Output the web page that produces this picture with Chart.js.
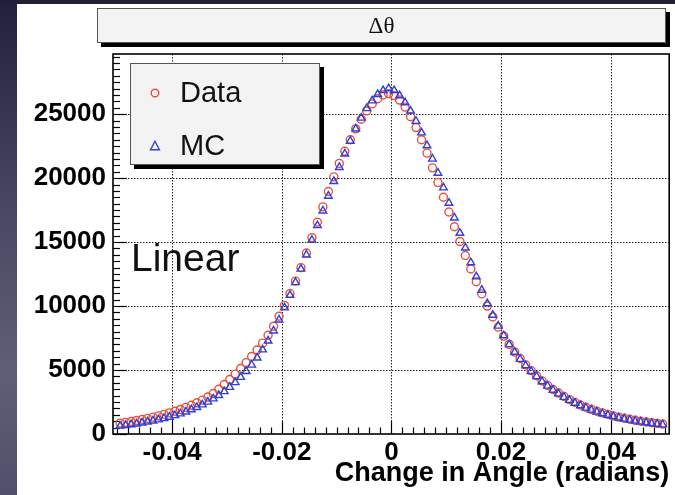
<!DOCTYPE html>
<html>
<head>
<meta charset="utf-8">
<script src="https://cdn.jsdelivr.net/npm/chart.js@4/dist/chart.umd.min.js"></script>
<style>
    body { margin: 0; }
    #page { position: relative; width: 675px; height: 495px; background: #fff; overflow: hidden; font-family: "Liberation Sans", Arial, sans-serif; }
    #leftStrip { position: absolute; left: 0; top: 0; width: 17px; height: 495px; background: linear-gradient(#20203a, #4a4a64 45%, #5e5e76 75%, #50506a); }
    #topStrip { position: absolute; left: 0; top: 0; width: 675px; height: 4px; background: #1e1e36; }
    #chart { position: absolute; left: 0; top: 0; }
    .pave { position: absolute; background: #f3f3f3; border: 1px solid #555; box-shadow: 4px 4px 0 #000; box-sizing: border-box; }
    #titleBox { left: 97px; top: 8px; width: 569px; height: 35px; text-align: center; font-family: "Liberation Serif", "DejaVu Serif", serif; font-size: 23px; line-height: 33px; color: #111; }
    #legendBox { left: 130px; top: 63px; width: 190px; height: 102px; }
    .entry { position: absolute; left: 0; font-size: 29px; color: #111; }
    .entry svg { position: absolute; left: 18px; }
    .entry span { position: absolute; left: 49px; white-space: nowrap; }
    #linear { position: absolute; left: 131px; top: 236px; font-size: 39px; color: #111; }
</style>
</head>
<body>
<div id="page">
    <div id="leftStrip"></div>
    <div id="topStrip"></div>
    <canvas id="chart" width="675" height="495"></canvas>
    <div id="titleBox" class="pave">&Delta;&theta;</div>
    <div id="legendBox" class="pave">
        <div class="entry" style="top:12px;"><svg width="12" height="12" style="top:11px;"><circle cx="6" cy="6" r="3.8" fill="none" stroke="#e8503c" stroke-width="1.4"/></svg><span>Data</span></div>
        <div class="entry" style="top:65px;"><svg width="12" height="12" style="top:11px;"><polygon points="6,1.3 10.4,9.7 1.6,9.7" fill="none" stroke="#2f3fd8" stroke-width="1.4"/></svg><span>MC</span></div>
    </div>
    <div id="linear">Linear</div>
</div>
<script>
// bin centres (radians)
const binCenters = [
    -0.0495, -0.0485, -0.0475, -0.0465, -0.0455, -0.0445, -0.0435, -0.0425, -0.0415, -0.0405,
    -0.0395, -0.0385, -0.0375, -0.0365, -0.0355, -0.0345, -0.0335, -0.0325, -0.0315, -0.0305,
    -0.0295, -0.0285, -0.0275, -0.0265, -0.0255, -0.0245, -0.0235, -0.0225, -0.0215, -0.0205,
    -0.0195, -0.0185, -0.0175, -0.0165, -0.0155, -0.0145, -0.0135, -0.0125, -0.0115, -0.0105,
    -0.0095, -0.0085, -0.0075, -0.0065, -0.0055, -0.0045, -0.0035, -0.0025, -0.0015, -0.0005,
    0.0005, 0.0015, 0.0025, 0.0035, 0.0045, 0.0055, 0.0065, 0.0075, 0.0085, 0.0095,
    0.0105, 0.0115, 0.0125, 0.0135, 0.0145, 0.0155, 0.0165, 0.0175, 0.0185, 0.0195,
    0.0205, 0.0215, 0.0225, 0.0235, 0.0245, 0.0255, 0.0265, 0.0275, 0.0285, 0.0295,
    0.0305, 0.0315, 0.0325, 0.0335, 0.0345, 0.0355, 0.0365, 0.0375, 0.0385, 0.0395,
    0.0405, 0.0415, 0.0425, 0.0435, 0.0445, 0.0455, 0.0465, 0.0475, 0.0485, 0.0495
];

const dataCounts = [
    850, 910, 980, 1050, 1130, 1220, 1320, 1420, 1530, 1650,
    1780, 1920, 2080, 2250, 2440, 2650, 2890, 3160, 3500, 3870,
    4260, 4680, 5120, 5580, 6060, 6560, 7100, 7720, 8420, 9200,
    10050, 10980, 11950, 13000, 14150, 15350, 16550, 17750, 18950, 20100,
    21150, 22100, 23000, 23850, 24600, 25250, 25800, 26200, 26500, 26600,
    26450, 26100, 25550, 24800, 23950, 23000, 21950, 20800, 19650, 18500,
    17350, 16200, 15050, 13950, 12900, 11900, 10950, 10000, 9150, 8350,
    7650, 7000, 6400, 5900, 5400, 4950, 4550, 4150, 3800, 3480,
    3200, 2930, 2690, 2470, 2270, 2090, 1930, 1780, 1650, 1530,
    1420, 1320, 1230, 1150, 1070, 1000, 940, 880, 830, 780
];

const mcCounts = [
    630, 680, 740, 800, 870, 950, 1030, 1120, 1220, 1330,
    1450, 1590, 1740, 1910, 2090, 2290, 2510, 2760, 3030, 3330,
    3660, 4030, 4440, 4900, 5400, 5960, 6590, 7290, 8070, 8930,
    9870, 10850, 11850, 12900, 14000, 15150, 16300, 17450, 18600, 19750,
    20850, 21900, 22900, 23850, 24700, 25450, 26050, 26550, 26850, 27000,
    26850, 26450, 25900, 25250, 24450, 23550, 22550, 21500, 20400, 19250,
    18050, 16900, 15700, 14550, 13400, 12300, 11250, 10200, 9300, 8450,
    7700, 7000, 6400, 5850, 5350, 4900, 4500, 4100, 3760, 3440,
    3150, 2880, 2640, 2420, 2220, 2040, 1880, 1730, 1600, 1480,
    1370, 1270, 1180, 1100, 1020, 950, 890, 830, 780, 730
];

const xTicks = [-0.04, -0.02, 0, 0.02, 0.04];
const yTicks = [0, 5000, 10000, 15000, 20000, 25000];

const toPoints = counts => counts.map((c, i) => ({ x: binCenters[i], y: c }));

// ROOT-style frame: dotted grid, inward tick marks, solid border
const rootFrame = {
    id: 'rootFrame',
    beforeDatasetsDraw(chart) {
        const { ctx, chartArea: a, scales: { x, y } } = chart;
        ctx.save();
        ctx.strokeStyle = '#222';
        ctx.lineWidth = 1;
        ctx.setLineDash([1.5, 1.5]);
        xTicks.forEach(v => {
            const px = Math.round(x.getPixelForValue(v)) + 0.5;
            ctx.beginPath(); ctx.moveTo(px, a.top); ctx.lineTo(px, a.bottom); ctx.stroke();
        });
        yTicks.slice(1).forEach(v => {
            const py = Math.round(y.getPixelForValue(v)) + 0.5;
            ctx.beginPath(); ctx.moveTo(a.left, py); ctx.lineTo(a.right, py); ctx.stroke();
        });
        ctx.setLineDash([]);
        ctx.strokeStyle = '#000';
        ctx.lineWidth = 1.2;
        // x ticks every 0.002, major every 0.02
        for (let i = -25; i <= 25; i++) {
            const v = i * 0.002;
            const px = Math.round(x.getPixelForValue(v)) + 0.5;
            const len = i % 10 === 0 ? 13 : 6.5;
            ctx.beginPath(); ctx.moveTo(px, a.bottom); ctx.lineTo(px, a.bottom - len); ctx.stroke();
        }
        // y ticks every 500, major every 5000
        for (let v = 0; v <= y.max; v += 500) {
            const py = Math.round(y.getPixelForValue(v)) + 0.5;
            const len = v % 5000 === 0 ? 14 : 7;
            ctx.beginPath(); ctx.moveTo(a.left, py); ctx.lineTo(a.left + len, py); ctx.stroke();
        }
        ctx.lineWidth = 1.6;
        ctx.strokeRect(a.left, a.top, a.right - a.left, a.bottom - a.top);
        ctx.restore();
    }
};

const tickFont = { family: '"Liberation Sans", Arial, sans-serif', size: 26, weight: 'bold' };

new Chart(document.getElementById('chart'), {
    type: 'scatter',
    data: {
        datasets: [
            {
                label: 'Data',
                data: toPoints(dataCounts),
                pointStyle: 'circle',
                pointRadius: 4,
                borderColor: '#e8503c',
                backgroundColor: 'rgba(0,0,0,0)',
                borderWidth: 1.4,
                order: 2
            },
            {
                label: 'MC',
                data: toPoints(mcCounts),
                pointStyle: 'triangle',
                pointRadius: 4.4,
                borderColor: '#2f3fd8',
                backgroundColor: 'rgba(0,0,0,0)',
                borderWidth: 1.4,
                order: 1
            }
        ]
    },
    options: {
        responsive: false,
        animation: false,
        layout: { padding: { top: 54, right: 2, left: 0, bottom: 0 } },
        plugins: { legend: { display: false }, tooltip: { enabled: false } },
        scales: {
            x: {
                type: 'linear',
                min: -0.0508,
                max: 0.0507,
                afterBuildTicks: scale => { scale.ticks = xTicks.map(v => ({ value: v })); },
                afterFit: scale => { scale.height = 61; },
                grid: { display: false, drawTicks: false },
                border: { display: false },
                ticks: {
                    autoSkip: false,
                    maxRotation: 0,
                    padding: 3,
                    color: '#000',
                    font: tickFont,
                    callback: v => v === 0 ? '0' : v.toFixed(2)
                },
                title: {
                    display: true,
                    text: 'Change in Angle (radians)',
                    align: 'end',
                    color: '#000',
                    font: { family: '"Liberation Sans", Arial, sans-serif', size: 27, weight: 'bold', lineHeight: 1.2 },
                    padding: { top: 0, bottom: 5 }
                }
            },
            y: {
                type: 'linear',
                min: 0,
                max: 29700,
                afterBuildTicks: scale => { scale.ticks = yTicks.map(v => ({ value: v })); },
                afterFit: scale => { scale.width = 113; },
                grid: { display: false, drawTicks: false },
                border: { display: false },
                ticks: {
                    padding: 7,
                    color: '#000',
                    font: tickFont,
                    callback: v => String(v)
                }
            }
        }
    },
    plugins: [rootFrame]
});
</script>
</body>
</html>
